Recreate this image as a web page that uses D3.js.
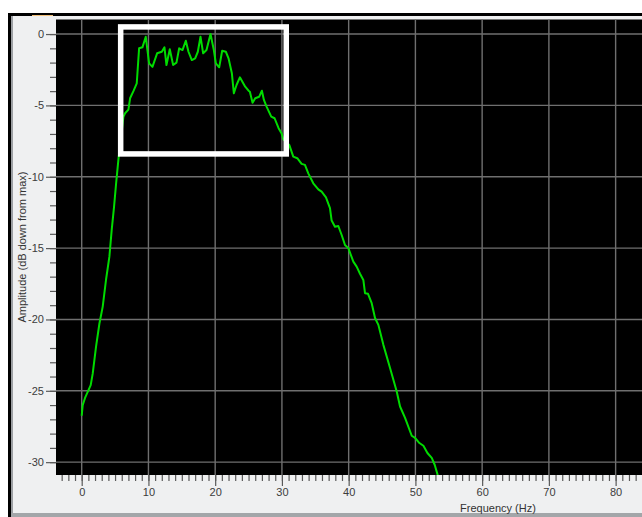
<!DOCTYPE html>
<html>
<head>
<meta charset="utf-8">
<script src="https://cdn.jsdelivr.net/npm/d3@7"></script>
<style>
  html, body { margin: 0; padding: 0; background: #ffffff; }
  svg { display: block; }
  text { font-family: "Liberation Sans", Arial, sans-serif; }
</style>
</head>
<body>
<svg id="chart" width="642" height="517"></svg>
<script>
// Spectrum: frequency (Hz) vs amplitude (dB down from max)
const freqHz = [
  0.0, 0.15, 0.5, 1.35, 1.65, 2.15, 2.65, 3.15, 3.65, 4.15, 4.5, 4.85, 5.15, 5.5,
  6.25, 6.5, 7.0, 7.25, 7.75, 8.25, 8.6, 9.1, 9.6, 10.1, 10.6, 11.3, 12.0, 12.4,
  12.7, 13.2, 13.7, 14.2, 14.6, 15.1, 15.6, 16.0, 16.5, 17.0, 17.4, 17.8, 18.2,
  18.7, 19.3, 19.8, 20.1, 20.6, 21.05, 21.6, 22.0, 22.5, 22.8, 23.2, 23.7, 24.5,
  25.0, 25.2, 25.6, 26.0, 26.6, 27.0, 27.3, 27.7, 28.4, 28.9, 29.5, 29.95, 30.2,
  31.1, 31.7, 32.3, 32.95, 33.45, 33.95, 34.7, 35.45, 35.95, 36.6, 37.2, 37.45,
  37.95, 38.45, 38.95, 39.45, 39.95, 40.7, 41.2, 41.7, 42.2, 42.45, 42.9, 43.45,
  43.95, 44.45, 45.2, 46.2, 47.2, 47.7, 48.45, 49.45, 49.95, 50.6, 51.2, 51.8,
  52.45, 52.9, 53.4, 53.6
];
const ampDb = [
  -26.75, -26.0, -25.5, -24.6, -23.8, -21.9, -20.3, -19.1, -17.2, -15.6, -13.7, -12.1, -10.5, -8.8,
  -5.8, -5.55, -5.3, -4.5, -4.0, -3.45, -1.0, -0.93, -0.19, -2.05, -2.3, -1.35, -1.24, -0.93,
  -2.17, -1.07, -2.17, -2.0, -1.0, -1.12, -0.47, -1.24, -1.82, -1.7, -1.24, -0.19, -1.35,
  -1.12, 0.0, -1.12, -2.05, -2.33, -1.17, -1.24, -1.7, -2.75, -4.15, -3.57, -3.03, -3.69,
  -3.97, -4.04, -4.81, -4.5, -4.39, -3.97, -4.62, -5.09, -5.79, -5.9, -6.6, -6.96, -7.37,
  -7.77, -8.59, -8.7, -9.1, -9.17, -9.76, -10.46, -10.88, -11.04, -11.44, -12.2, -13.07,
  -13.5, -13.45, -14.08, -14.78, -15.0, -15.95, -16.3, -16.8, -17.23, -18.16, -18.2, -18.86,
  -19.9, -20.38, -21.78, -23.4, -25.05, -26.1, -26.9, -28.15, -28.3, -28.66, -28.85, -29.36,
  -29.7, -30.2, -31.0, -31.5
];

// Axis ticks
const xMajorTicks = [0, 10, 20, 30, 40, 50, 60, 70, 80];
const yMajorTicks = [0, -5, -10, -15, -20, -25, -30];

// Highlighted passband region
const boxHz = [5.84, 30.65];
const boxDb = [0.5, -8.4];

const xTitle = "Frequency (Hz)";
const yTitle = "Amplitude (dB down from max)";

const svg = d3.select("#chart");
const W = 642, H = 517;
const plot = { left: 56, top: 19.5, right: 650, bottom: 475 };

const x = d3.scaleLinear().domain([-3.85, 85.15]).range([plot.left, plot.right]);
const y = d3.scaleLinear().domain([1.02, -30.9]).range([plot.top, plot.bottom]);

// Plain hyphen-minus labels
const plainLabel = d => String(d);

// Window frame and panel
svg.append("rect").attr("x", 0).attr("y", 0).attr("width", W).attr("height", H).attr("fill", "#ffffff");
svg.append("rect").attr("x", 11).attr("y", 16).attr("width", W - 11).attr("height", 497).attr("fill", "#eff0f1");
svg.append("rect").attr("x", 8).attr("y", 13).attr("width", W - 8).attr("height", 3).attr("fill", "#000000");
svg.append("rect").attr("x", 8).attr("y", 13).attr("width", 3).attr("height", H - 13).attr("fill", "#000000");
svg.append("rect").attr("x", 11).attr("y", 16).attr("width", 2).attr("height", H - 16).attr("fill", "#9c9fa3");
svg.append("rect").attr("x", 11).attr("y", 513).attr("width", W - 11).attr("height", 4).attr("fill", "#a3a6a9");
svg.append("rect").attr("x", 32).attr("y", 15).attr("width", 21).attr("height", 1).attr("fill", "#f2c07a");

// Plot background
svg.append("rect")
  .attr("x", plot.left).attr("y", plot.top)
  .attr("width", plot.right - plot.left).attr("height", plot.bottom - plot.top)
  .attr("fill", "#000000");

// Grid
const grid = svg.append("g").attr("stroke", "#6f6f6f").attr("stroke-width", 1.4);
grid.selectAll("line.gx").data(xMajorTicks).join("line")
  .attr("x1", d => x(d)).attr("x2", d => x(d))
  .attr("y1", plot.top).attr("y2", plot.bottom);
grid.selectAll("line.gy").data(yMajorTicks).join("line")
  .attr("x1", plot.left).attr("x2", plot.right)
  .attr("y1", d => y(d)).attr("y2", d => y(d));

// X axis: minor ticks every 1 Hz, major every 10 Hz
const xMinor = d3.range(-3, 86, 1);
const xAxisMinor = d3.axisBottom(x).tickValues(xMinor).tickSize(6).tickFormat("");
const xAxisMajor = d3.axisBottom(x).tickValues(xMajorTicks).tickSize(11).tickPadding(5).tickFormat(plainLabel);
const gxm = svg.append("g").attr("transform", `translate(0,${plot.bottom})`).call(xAxisMinor);
const gxM = svg.append("g").attr("transform", `translate(0,${plot.bottom})`).call(xAxisMajor);
[gxm, gxM].forEach(g => {
  g.select(".domain").remove();
  g.selectAll(".tick line").attr("stroke", "#5a5a5a").attr("stroke-width", 1.2);
});
gxM.selectAll(".tick text").attr("fill", "#3c3c3c").attr("font-size", 11).attr("dy", "0.45em");

// Y axis: minor ticks every 1 dB, major every 5 dB
const yMinor = d3.range(-30, 1, 1);
const yAxisMinor = d3.axisLeft(y).tickValues(yMinor).tickSize(6).tickFormat("");
const yAxisMajor = d3.axisLeft(y).tickValues(yMajorTicks).tickSize(10).tickPadding(2).tickFormat(plainLabel);
const gym = svg.append("g").attr("transform", `translate(${plot.left},0)`).call(yAxisMinor);
const gyM = svg.append("g").attr("transform", `translate(${plot.left},0)`).call(yAxisMajor);
[gym, gyM].forEach(g => {
  g.select(".domain").remove();
  g.selectAll(".tick line").attr("stroke", "#5a5a5a").attr("stroke-width", 1.2);
});
gyM.selectAll(".tick text").attr("fill", "#3c3c3c").attr("font-size", 11);

// Axis titles
svg.append("text")
  .attr("x", 498).attr("y", 512)
  .attr("text-anchor", "middle").attr("font-size", 11).attr("fill", "#333333")
  .text(xTitle);
svg.append("text")
  .attr("transform", "translate(26,247) rotate(-90)")
  .attr("text-anchor", "middle").attr("font-size", 11).attr("fill", "#333333")
  .text(yTitle);

// Clip the trace to the plot area
svg.append("clipPath").attr("id", "plotClip")
  .append("rect")
  .attr("x", plot.left).attr("y", plot.top)
  .attr("width", plot.right - plot.left).attr("height", plot.bottom - plot.top);

const line = d3.line().x(i => x(freqHz[i])).y(i => y(ampDb[i]));
svg.append("path")
  .attr("clip-path", "url(#plotClip)")
  .attr("d", line(d3.range(freqHz.length)))
  .attr("fill", "none")
  .attr("stroke", "#00dc00")
  .attr("stroke-width", 2)
  .attr("stroke-linejoin", "round");

// Highlight box
svg.append("rect")
  .attr("x", x(boxHz[0])).attr("y", y(boxDb[0]))
  .attr("width", x(boxHz[1]) - x(boxHz[0]))
  .attr("height", y(boxDb[1]) - y(boxDb[0]))
  .attr("fill", "none")
  .attr("stroke", "#ffffff")
  .attr("stroke-width", 5.5);
</script>
</body>
</html>
